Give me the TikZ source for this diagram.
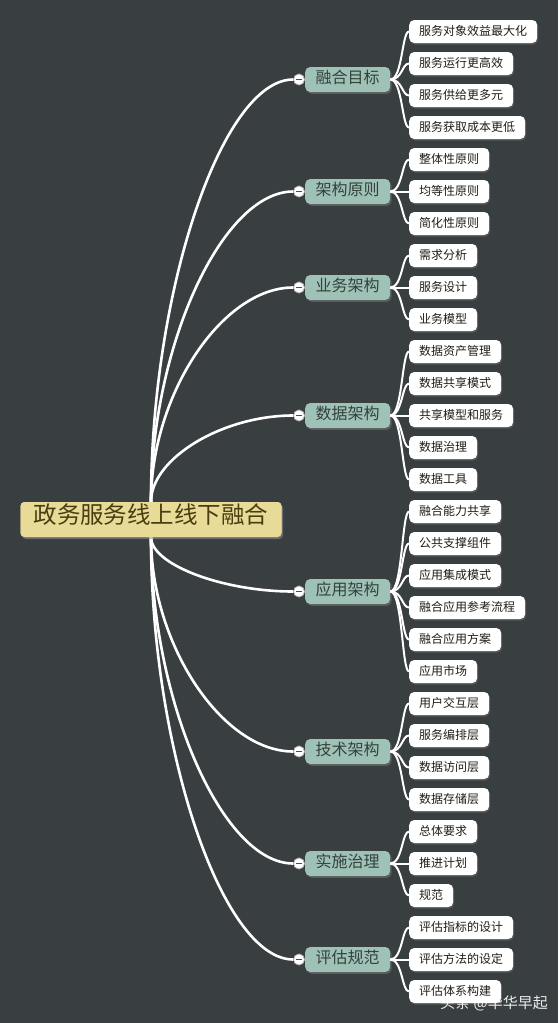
\documentclass[tikz,border=0pt]{standalone}
\usepackage{fontspec}
\setmainfont{Noto Sans CJK SC}
\usetikzlibrary{shadows,calc}
\definecolor{bg}{HTML}{393E41}
\definecolor{rootfill}{HTML}{E8DB98}
\definecolor{roottext}{HTML}{4A3D10}
\definecolor{brfill}{HTML}{9FC2B7}
\definecolor{brtext}{HTML}{34413D}
\definecolor{leaftext}{HTML}{1E1E1E}
\tikzset{
  rootbox/.style={fill=rootfill, text=roottext, rounded corners=4pt,
    font=\fontsize{23.5}{26}\selectfont, inner xsep=13pt, inner ysep=0pt,
    minimum height=35pt, text height=0.86em, text depth=0.14em,
    drop shadow={shadow xshift=1.5pt, shadow yshift=-2pt, opacity=0.45}},
  branchbox/.style={fill=brfill, text=brtext, rounded corners=5pt,
    font=\fontsize{16}{18}\selectfont, inner xsep=10.5pt, inner ysep=0pt,
    minimum height=25pt, text height=0.86em, text depth=0.14em, anchor=west,
    drop shadow={shadow xshift=1.5pt, shadow yshift=-2pt, opacity=0.45}},
  leafbox/.style={fill=white, text=leaftext, rounded corners=5pt,
    font=\fontsize{12}{14}\selectfont, inner xsep=10pt, inner ysep=0pt,
    minimum height=23pt, text height=0.86em, text depth=0.14em, anchor=west,
    drop shadow={shadow xshift=1pt, shadow yshift=-1.5pt, opacity=0.4}},
  collapse/.style={circle, fill=white, draw=gray!70, line width=0.6pt,
    minimum size=11pt, inner sep=0pt,
    path picture={\draw[line width=1.3pt, color=black!70]
      ([xshift=-3.2pt]path picture bounding box.center) --
      ([xshift=3.2pt]path picture bounding box.center);}},
  mainline/.style={draw=white, line width=2.6pt},
  leafline/.style={draw=white, line width=2pt},
  watermark/.style={text=white, opacity=0.9, font=\fontsize{15}{17}\selectfont, inner sep=0pt}
}
\begin{document}
\begin{tikzpicture}[x=1pt,y=-1pt]
\fill[bg] (0,0) rectangle (558,1023);
\useasboundingbox (0,0) rectangle (558,1023);

% branches
\node[branchbox] (b1) at (305,79.5) {融合目标};
\node[branchbox] (b2) at (305,191.5) {架构原则};
\node[branchbox] (b3) at (305,287.5) {业务架构};
\node[branchbox] (b4) at (305,415.5) {数据架构};
\node[branchbox] (b5) at (305,591.5) {应用架构};
\node[branchbox] (b6) at (305,751.5) {技术架构};
\node[branchbox] (b7) at (305,863.5) {实施治理};
\node[branchbox] (b8) at (305,959.5) {评估规范};

% leaves
\node[leafbox] (l1) at (409,31.5) {服务对象效益最大化};
\node[leafbox] (l2) at (409,63.5) {服务运行更高效};
\node[leafbox] (l3) at (409,95.5) {服务供给更多元};
\node[leafbox] (l4) at (409,127.5) {服务获取成本更低};
\node[leafbox] (l5) at (409,159.5) {整体性原则};
\node[leafbox] (l6) at (409,191.5) {均等性原则};
\node[leafbox] (l7) at (409,223.5) {简化性原则};
\node[leafbox] (l8) at (409,255.5) {需求分析};
\node[leafbox] (l9) at (409,287.5) {服务设计};
\node[leafbox] (l10) at (409,319.5) {业务模型};
\node[leafbox] (l11) at (409,351.5) {数据资产管理};
\node[leafbox] (l12) at (409,383.5) {数据共享模式};
\node[leafbox] (l13) at (409,415.5) {共享模型和服务};
\node[leafbox] (l14) at (409,447.5) {数据治理};
\node[leafbox] (l15) at (409,479.5) {数据工具};
\node[leafbox] (l16) at (409,511.5) {融合能力共享};
\node[leafbox] (l17) at (409,543.5) {公共支撑组件};
\node[leafbox] (l18) at (409,575.5) {应用集成模式};
\node[leafbox] (l19) at (409,607.5) {融合应用参考流程};
\node[leafbox] (l20) at (409,639.5) {融合应用方案};
\node[leafbox] (l21) at (409,671.5) {应用市场};
\node[leafbox] (l22) at (409,703.5) {用户交互层};
\node[leafbox] (l23) at (409,735.5) {服务编排层};
\node[leafbox] (l24) at (409,767.5) {数据访问层};
\node[leafbox] (l25) at (409,799.5) {数据存储层};
\node[leafbox] (l26) at (409,831.5) {总体要求};
\node[leafbox] (l27) at (409,863.5) {推进计划};
\node[leafbox] (l28) at (409,895.5) {规范};
\node[leafbox] (l29) at (409,927.5) {评估指标的设计};
\node[leafbox] (l30) at (409,959.5) {评估方法的设定};
\node[leafbox] (l31) at (409,991.5) {评估体系构建};

% leaf connectors
\foreach \b/\l in {1/1,1/2,1/3,1/4,2/5,2/6,2/7,3/8,3/9,3/10,
  4/11,4/12,4/13,4/14,4/15,5/16,5/17,5/18,5/19,5/20,5/21,
  6/22,6/23,6/24,6/25,7/26,7/27,7/28,8/29,8/30,8/31}
  \draw[leafline] (b\b.east) .. controls +(12,0) and +(-7,0) .. (l\l.west);

% collapse markers
\foreach \i in {1,...,8}
  \node[collapse] (c\i) at ([xshift=-6pt]b\i.west) {};

% root
\node[rootbox] (root) at (151,519.5) {政务服务线上线下融合};

% main connectors
\foreach \i/\s in {1/north,2/north,3/north,4/north,5/south,6/south,7/south,8/south}
  \draw[mainline] (root.\s) .. controls ($(root.\s)!0.5!(root.\s|-c\i.west)$)
    and ($(c\i.west)!0.5!(c\i.west-|root.\s)$) .. (c\i.west);

\foreach \i in {1,...,8}
  \node[collapse] at (c\i) {};

\node[rootbox] at (root) {政务服务线上线下融合};

\node[watermark] (wm) at (494,1003) {头条 @华华早起};
\end{tikzpicture}
\end{document}
